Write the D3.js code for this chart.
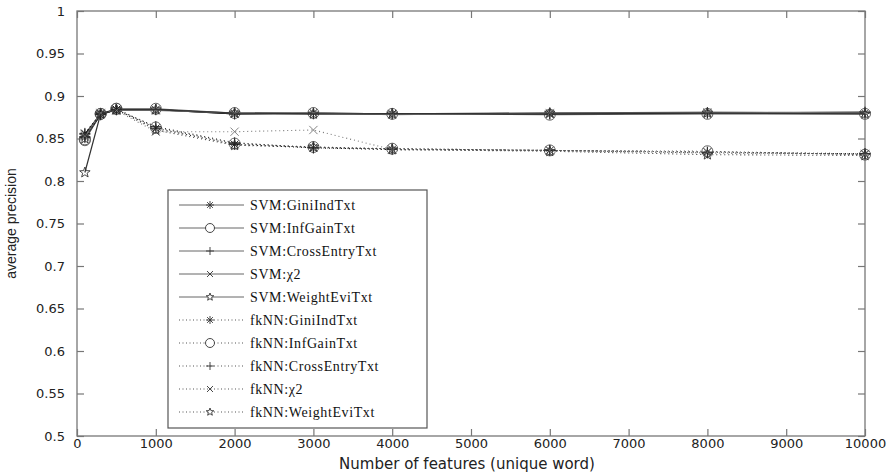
<!DOCTYPE html>
<html>
<head>
<meta charset="utf-8">
<script src="https://cdn.jsdelivr.net/npm/d3@7"></script>
<style>
  body { margin: 0; background: #fff; }
  svg { display: block; }
</style>
</head>
<body>
<script>
// number of features (x values)
var features = [100, 300, 500, 1000, 2000, 3000, 4000, 6000, 8000, 10000];

var svmGini   = [0.855, 0.879, 0.884, 0.884, 0.879, 0.880, 0.879, 0.879, 0.880, 0.880];
var svmInf    = [0.848, 0.879, 0.885, 0.885, 0.880, 0.880, 0.879, 0.878, 0.879, 0.879];
var svmCross  = [0.851, 0.878, 0.884, 0.884, 0.879, 0.879, 0.879, 0.879, 0.880, 0.881];
var svmChi    = [0.852, 0.880, 0.883, 0.883, 0.880, 0.880, 0.878, 0.880, 0.881, 0.880];
var svmWeight = [0.810, 0.879, 0.884, 0.884, 0.880, 0.879, 0.879, 0.880, 0.880, 0.879];

var knnGini   = [0.856, 0.879, 0.884, 0.862, 0.843, 0.839, 0.837, 0.836, 0.834, 0.832];
var knnInf    = [0.849, 0.879, 0.885, 0.863, 0.844, 0.840, 0.838, 0.836, 0.835, 0.831];
var knnCross  = [0.852, 0.878, 0.884, 0.864, 0.845, 0.839, 0.838, 0.836, 0.833, 0.832];
var knnChi    = [0.853, 0.880, 0.883, 0.858, 0.858, 0.860, 0.837, 0.836, 0.834, 0.831];
var knnWeight = [0.850, 0.879, 0.884, 0.860, 0.842, 0.840, 0.837, 0.835, 0.831, 0.830];

var seriesNames = ["SVM:GiniIndTxt", "SVM:InfGainTxt", "SVM:CrossEntryTxt", "SVM:\u03C72", "SVM:WeightEviTxt",
                   "fkNN:GiniIndTxt", "fkNN:InfGainTxt", "fkNN:CrossEntryTxt", "fkNN:\u03C72", "fkNN:WeightEviTxt"];
var seriesValues = [svmGini, svmInf, svmCross, svmChi, svmWeight, knnGini, knnInf, knnCross, knnChi, knnWeight];
var markers = ["asterisk", "circle", "plus", "times", "star", "asterisk", "circle", "plus", "times", "star"];
var lineColors = ["#111", "#555", "#222", "#777", "#333", "#111", "#555", "#222", "#777", "#333"];

var xTicks = [0, 1000, 2000, 3000, 4000, 5000, 6000, 7000, 8000, 9000, 10000];
var yTicks = [0.5, 0.55, 0.6, 0.65, 0.7, 0.75, 0.8, 0.85, 0.9, 0.95, 1];

var W = 887, H = 473;
var margin = {left: 77, right: 22, top: 11, bottom: 37};

var svg = d3.select("body").append("svg")
    .attr("width", W)
    .attr("height", H);

var x = d3.scaleLinear().domain([0, 10000]).range([margin.left, W - margin.right]);
var y = d3.scaleLinear().domain([0.5, 1]).range([H - margin.bottom, margin.top]);

var axisColor = "#777";
var tickFont = "'DejaVu Sans', Verdana, sans-serif";

// frame
svg.append("rect")
    .attr("x", x(0)).attr("y", y(1))
    .attr("width", x(10000) - x(0)).attr("height", y(0.5) - y(1))
    .attr("fill", "none").attr("stroke", axisColor).attr("stroke-width", 1.3);

// ticks pointing inward on all four sides
function styleAxis(g) {
    g.select(".domain").remove();
    g.selectAll(".tick line").attr("stroke", axisColor).attr("stroke-width", 1.2);
    g.selectAll(".tick text").attr("fill", "#222").attr("font-family", tickFont).attr("font-size", "13px");
}

svg.append("g")
    .attr("transform", "translate(0," + y(0.5) + ")")
    .call(d3.axisBottom(x).tickValues(xTicks).tickSize(-7).tickPadding(3).tickFormat(d3.format("d")))
    .call(styleAxis);

svg.append("g")
    .attr("transform", "translate(0," + y(1) + ")")
    .call(d3.axisTop(x).tickValues(xTicks).tickSize(-7).tickFormat(""))
    .call(styleAxis);

svg.append("g")
    .attr("transform", "translate(" + x(0) + ",0)")
    .call(d3.axisLeft(y).tickValues(yTicks).tickSize(-7).tickPadding(12).tickFormat(function(d) { return d3.format("")(+d.toFixed(2)); }))
    .call(styleAxis);

svg.append("g")
    .attr("transform", "translate(" + x(10000) + ",0)")
    .call(d3.axisRight(y).tickValues(yTicks).tickSize(-7).tickFormat(""))
    .call(styleAxis);

// axis titles
svg.append("text")
    .attr("x", (x(0) + x(10000)) / 2 - 4)
    .attr("y", H - 4)
    .attr("text-anchor", "middle")
    .attr("font-family", tickFont)
    .attr("font-size", "15px")
    .attr("fill", "#222")
    .text("Number of features (unique word)");

svg.append("text")
    .attr("transform", "translate(16," + (y(0.75)) + ") rotate(-90)")
    .attr("text-anchor", "middle")
    .attr("font-family", "'Liberation Sans Narrow', 'Arial Narrow', sans-serif")
    .attr("font-size", "14px")
    .attr("fill", "#222")
    .text("average precision");

// marker shapes
function markerPath(type, cx, cy, r) {
    var p = d3.path();
    if (type === "circle") {
        p.moveTo(cx + r, cy);
        p.arc(cx, cy, r, 0, 2 * Math.PI);
    } else if (type === "plus") {
        p.moveTo(cx - r, cy); p.lineTo(cx + r, cy);
        p.moveTo(cx, cy - r); p.lineTo(cx, cy + r);
    } else if (type === "times") {
        var d = r * 0.75;
        p.moveTo(cx - d, cy - d); p.lineTo(cx + d, cy + d);
        p.moveTo(cx - d, cy + d); p.lineTo(cx + d, cy - d);
    } else if (type === "asterisk") {
        p.moveTo(cx - r, cy); p.lineTo(cx + r, cy);
        p.moveTo(cx, cy - r); p.lineTo(cx, cy + r);
        var e = r * 0.72;
        p.moveTo(cx - e, cy - e); p.lineTo(cx + e, cy + e);
        p.moveTo(cx - e, cy + e); p.lineTo(cx + e, cy - e);
    } else if (type === "star") {
        for (var i = 0; i < 10; i++) {
            var a = -Math.PI / 2 + i * Math.PI / 5;
            var rr = i % 2 === 0 ? r : r * 0.42;
            if (i === 0) p.moveTo(cx + rr * Math.cos(a), cy + rr * Math.sin(a));
            else p.lineTo(cx + rr * Math.cos(a), cy + rr * Math.sin(a));
        }
        p.closePath();
    }
    return p.toString();
}

var line = d3.line()
    .x(function(d, i) { return x(features[i]); })
    .y(function(d) { return y(d); });

var plot = svg.append("g");

seriesValues.forEach(function(vals, k) {
    var dotted = k >= 5;
    plot.append("path")
        .datum(vals)
        .attr("d", line)
        .attr("fill", "none")
        .attr("stroke", lineColors[k])
        .attr("stroke-width", dotted ? 1.1 : 1.2)
        .attr("stroke-dasharray", dotted ? "1,3" : null);

    plot.selectAll(null)
        .data(vals)
        .enter()
        .append("path")
        .attr("d", function(d, i) { return markerPath(markers[k], x(features[i]), y(d), 5.5); })
        .attr("fill", "none")
        .attr("stroke", lineColors[k])
        .attr("stroke-width", 0.9);
});

// legend
var lg = {x: 168, y: 190, w: 259, h: 238, row: 23};
svg.append("rect")
    .attr("x", lg.x).attr("y", lg.y)
    .attr("width", lg.w).attr("height", lg.h)
    .attr("fill", "#fff").attr("stroke", "#555").attr("stroke-width", 1.2);

var items = svg.selectAll(".legend-item")
    .data(seriesNames)
    .enter()
    .append("g")
    .attr("class", "legend-item")
    .attr("transform", function(d, i) { return "translate(0," + (lg.y + 15 + i * lg.row) + ")"; });

items.append("line")
    .attr("x1", lg.x + 11).attr("x2", lg.x + 76)
    .attr("y1", 0).attr("y2", 0)
    .attr("stroke", "#555")
    .attr("stroke-width", function(d, i) { return i >= 5 ? 1.1 : 0.9; })
    .attr("stroke-dasharray", function(d, i) { return i >= 5 ? "1,2.5" : null; });

items.append("path")
    .attr("d", function(d, i) { return markerPath(markers[i], lg.x + 42, 0, i % 5 === 1 ? 4.5 : 4); })
    .attr("fill", "#fff")
    .attr("stroke", "#333")
    .attr("stroke-width", 0.9);

items.append("text")
    .attr("x", lg.x + 82)
    .attr("y", 5)
    .attr("font-family", "'Liberation Serif', 'Times New Roman', serif")
    .attr("font-size", "14px")
    .attr("letter-spacing", "0.6px")
    .attr("fill", "#111")
    .text(function(d) { return d; });
</script>
</body>
</html>
